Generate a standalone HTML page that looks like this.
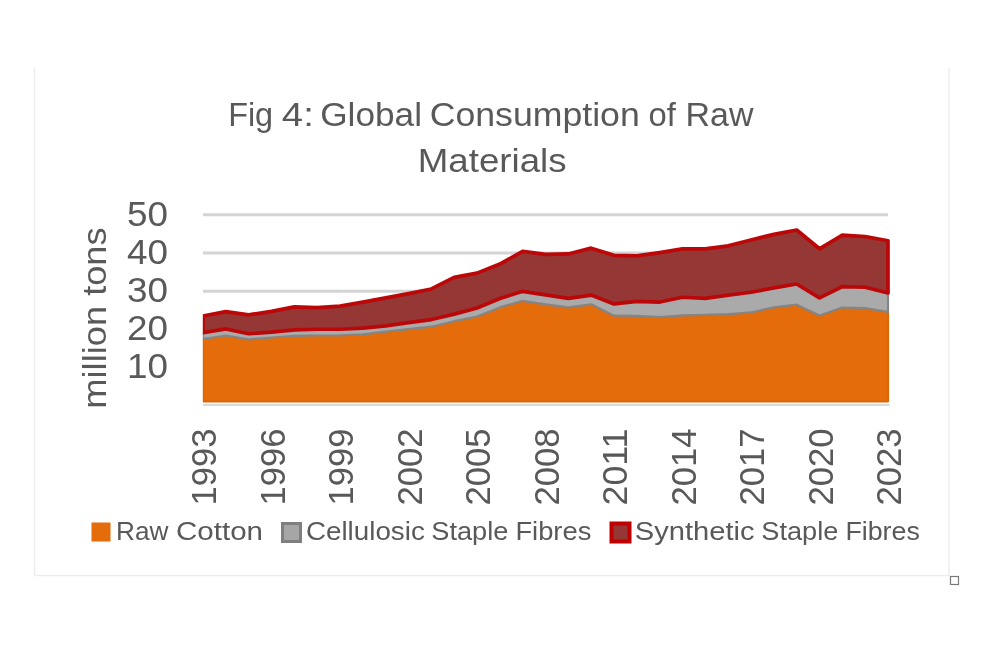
<!DOCTYPE html>
<html><head><meta charset="utf-8"><title>Fig 4: Global Consumption of Raw Materials</title>
<style>.t{font-family:"Liberation Sans",sans-serif}html,body{margin:0;padding:0;background:#fff;width:1000px;height:666px;overflow:hidden;position:relative;font-family:"Liberation Sans",sans-serif}</style>
</head><body>
<svg width="1000" height="666" viewBox="0 0 1000 666" style="position:absolute;left:0;top:0;display:block;will-change:transform">
<rect x="0" y="0" width="1000" height="666" fill="#ffffff"/>
<path d="M34.5,68 L34.5,575.5 L949,575.5 L949,68" fill="none" stroke="#ededed" stroke-width="1.5"/>
<rect x="950.5" y="576.5" width="8" height="8" fill="#ffffff" stroke="#7a7a7a" stroke-width="1.2"/>
<line x1="203.0" y1="214.85" x2="888.0" y2="214.85" stroke="#d4d4d4" stroke-width="3"/>
<line x1="203.0" y1="253.10" x2="888.0" y2="253.10" stroke="#d4d4d4" stroke-width="3"/>
<line x1="203.0" y1="291.35" x2="888.0" y2="291.35" stroke="#d4d4d4" stroke-width="3"/>
<line x1="203.0" y1="329.60" x2="888.0" y2="329.60" stroke="#d4d4d4" stroke-width="3"/>
<line x1="203.0" y1="367.85" x2="888.0" y2="367.85" stroke="#d4d4d4" stroke-width="3"/>
<line x1="203.0" y1="404.9" x2="889.5" y2="404.9" stroke="#d9d9d9" stroke-width="2"/>
<defs><clipPath id="pc"><rect x="202.8" y="150" width="687.4" height="270"/></clipPath></defs>
<g clip-path="url(#pc)">
<path d="M203.00,339.20 L225.83,335.50 L248.67,339.40 L271.50,337.50 L294.33,335.90 L317.17,335.50 L340.00,335.30 L362.83,334.30 L385.67,331.60 L408.50,329.20 L431.33,326.70 L454.17,321.20 L477.00,316.50 L499.83,307.40 L522.67,300.80 L545.50,304.30 L568.33,307.30 L591.17,304.30 L614.00,315.70 L636.83,315.80 L659.67,317.10 L682.50,315.40 L705.33,314.90 L728.17,314.05 L751.00,312.30 L773.83,307.40 L796.67,304.65 L819.50,315.45 L842.33,307.50 L865.17,308.20 L888.00,311.80 L888.00,401.30 L203.00,401.30 Z" fill="#e46c0a" stroke="#dc660a" stroke-width="2.2" stroke-linejoin="round"/>
<path d="M203.00,332.55 L225.83,328.95 L248.67,333.75 L271.50,332.15 L294.33,329.85 L317.17,329.25 L340.00,329.25 L362.83,328.05 L385.67,325.85 L408.50,322.55 L431.33,319.55 L454.17,314.15 L477.00,308.05 L499.83,298.45 L522.67,291.35 L545.50,294.85 L568.33,298.45 L591.17,295.05 L614.00,303.95 L636.83,301.35 L659.67,302.05 L682.50,297.25 L705.33,298.45 L728.17,295.05 L751.00,292.25 L773.83,287.90 L796.67,284.00 L819.50,297.90 L842.33,286.55 L865.17,287.25 L888.00,292.95 L888.00,311.80 L865.17,308.20 L842.33,307.50 L819.50,315.45 L796.67,304.65 L773.83,307.40 L751.00,312.30 L728.17,314.05 L705.33,314.90 L682.50,315.40 L659.67,317.10 L636.83,315.80 L614.00,315.70 L591.17,304.30 L568.33,307.30 L545.50,304.30 L522.67,300.80 L499.83,307.40 L477.00,316.50 L454.17,321.20 L431.33,326.70 L408.50,329.20 L385.67,331.60 L362.83,334.30 L340.00,335.30 L317.17,335.50 L294.33,335.90 L271.50,337.50 L248.67,339.40 L225.83,335.50 L203.00,339.20 Z" fill="#aaaaaa" stroke="#858585" stroke-width="2.2" stroke-linejoin="round"/>
<path d="M203.00,315.95 L225.83,311.65 L248.67,314.85 L271.50,311.35 L294.33,306.85 L317.17,307.55 L340.00,306.15 L362.83,302.15 L385.67,297.85 L408.50,293.65 L431.33,288.95 L454.17,277.35 L477.00,273.15 L499.83,264.05 L522.67,251.35 L545.50,254.35 L568.33,253.95 L591.17,248.15 L614.00,255.35 L636.83,255.95 L659.67,252.65 L682.50,248.85 L705.33,248.85 L728.17,245.80 L751.00,239.95 L773.83,234.35 L796.67,230.00 L819.50,248.80 L842.33,235.05 L865.17,236.50 L888.00,240.75 L888.00,292.95 L865.17,287.25 L842.33,286.55 L819.50,297.90 L796.67,284.00 L773.83,287.90 L751.00,292.25 L728.17,295.05 L705.33,298.45 L682.50,297.25 L659.67,302.05 L636.83,301.35 L614.00,303.95 L591.17,295.05 L568.33,298.45 L545.50,294.85 L522.67,291.35 L499.83,298.45 L477.00,308.05 L454.17,314.15 L431.33,319.55 L408.50,322.55 L385.67,325.85 L362.83,328.05 L340.00,329.25 L317.17,329.25 L294.33,329.85 L271.50,332.15 L248.67,333.75 L225.83,328.95 L203.00,332.55 Z" fill="#953735" stroke="#bb0708" stroke-width="3.7" stroke-linejoin="round"/>
</g>
<text x="228.14" y="125.5" class="t" font-size="34" fill="#595959" textLength="44.99" lengthAdjust="spacingAndGlyphs">Fig</text>
<text x="281.88" y="125.5" class="t" font-size="34" fill="#595959" textLength="31.90" lengthAdjust="spacingAndGlyphs">4:</text>
<text x="320.23" y="125.5" class="t" font-size="34" fill="#595959" textLength="101.73" lengthAdjust="spacingAndGlyphs">Global</text>
<text x="429.70" y="125.5" class="t" font-size="34" fill="#595959" textLength="210.05" lengthAdjust="spacingAndGlyphs">Consumption</text>
<text x="648.54" y="125.5" class="t" font-size="34" fill="#595959" textLength="27.35" lengthAdjust="spacingAndGlyphs">of</text>
<text x="685.60" y="125.5" class="t" font-size="34" fill="#595959" textLength="67.93" lengthAdjust="spacingAndGlyphs">Raw</text>
<text x="417.76" y="171.6" class="t" font-size="34" fill="#595959" textLength="148.85" lengthAdjust="spacingAndGlyphs">Materials</text>
<text x="168" y="226.00" text-anchor="end" class="t" font-size="35" fill="#595959" textLength="41" lengthAdjust="spacingAndGlyphs">50</text>
<text x="168" y="264.00" text-anchor="end" class="t" font-size="35" fill="#595959" textLength="41" lengthAdjust="spacingAndGlyphs">40</text>
<text x="168" y="302.00" text-anchor="end" class="t" font-size="35" fill="#595959" textLength="41" lengthAdjust="spacingAndGlyphs">30</text>
<text x="168" y="340.00" text-anchor="end" class="t" font-size="35" fill="#595959" textLength="41" lengthAdjust="spacingAndGlyphs">20</text>
<text x="168" y="378.00" text-anchor="end" class="t" font-size="35" fill="#595959" textLength="41" lengthAdjust="spacingAndGlyphs">10</text>
<text transform="translate(106,318) rotate(-90)" x="0" y="0" text-anchor="middle" class="t" font-size="34" fill="#595959" textLength="181.3" lengthAdjust="spacingAndGlyphs">million tons</text>
<text transform="translate(216.30,428.5) rotate(-90)" x="0" y="0" text-anchor="end" class="t" font-size="35" fill="#595959" textLength="77" lengthAdjust="spacingAndGlyphs">1993</text>
<text transform="translate(284.80,428.5) rotate(-90)" x="0" y="0" text-anchor="end" class="t" font-size="35" fill="#595959" textLength="77" lengthAdjust="spacingAndGlyphs">1996</text>
<text transform="translate(353.30,428.5) rotate(-90)" x="0" y="0" text-anchor="end" class="t" font-size="35" fill="#595959" textLength="77" lengthAdjust="spacingAndGlyphs">1999</text>
<text transform="translate(421.80,428.5) rotate(-90)" x="0" y="0" text-anchor="end" class="t" font-size="35" fill="#595959" textLength="77" lengthAdjust="spacingAndGlyphs">2002</text>
<text transform="translate(490.30,428.5) rotate(-90)" x="0" y="0" text-anchor="end" class="t" font-size="35" fill="#595959" textLength="77" lengthAdjust="spacingAndGlyphs">2005</text>
<text transform="translate(558.80,428.5) rotate(-90)" x="0" y="0" text-anchor="end" class="t" font-size="35" fill="#595959" textLength="77" lengthAdjust="spacingAndGlyphs">2008</text>
<text transform="translate(627.30,428.5) rotate(-90)" x="0" y="0" text-anchor="end" class="t" font-size="35" fill="#595959" textLength="77" lengthAdjust="spacingAndGlyphs">2011</text>
<text transform="translate(695.80,428.5) rotate(-90)" x="0" y="0" text-anchor="end" class="t" font-size="35" fill="#595959" textLength="77" lengthAdjust="spacingAndGlyphs">2014</text>
<text transform="translate(764.30,428.5) rotate(-90)" x="0" y="0" text-anchor="end" class="t" font-size="35" fill="#595959" textLength="77" lengthAdjust="spacingAndGlyphs">2017</text>
<text transform="translate(832.80,428.5) rotate(-90)" x="0" y="0" text-anchor="end" class="t" font-size="35" fill="#595959" textLength="77" lengthAdjust="spacingAndGlyphs">2020</text>
<text transform="translate(901.30,428.5) rotate(-90)" x="0" y="0" text-anchor="end" class="t" font-size="35" fill="#595959" textLength="77" lengthAdjust="spacingAndGlyphs">2023</text>
<rect x="91.5" y="522.5" width="19" height="19" fill="#e46c0a"/>
<rect x="282.5" y="523.5" width="18" height="18" fill="#a6a6a6" stroke="#7f7f7f" stroke-width="3"/>
<rect x="611.5" y="523.5" width="18" height="18" fill="#953735" stroke="#c00000" stroke-width="4"/>
<text x="115.98" y="539.6" class="t" font-size="26" fill="#595959" textLength="52.43" lengthAdjust="spacingAndGlyphs">Raw</text>
<text x="176.06" y="539.6" class="t" font-size="26" fill="#595959" textLength="86.96" lengthAdjust="spacingAndGlyphs">Cotton</text>
<text x="305.93" y="539.6" class="t" font-size="26" fill="#595959" textLength="118.92" lengthAdjust="spacingAndGlyphs">Cellulosic</text>
<text x="431.31" y="539.6" class="t" font-size="26" fill="#595959" textLength="77.06" lengthAdjust="spacingAndGlyphs">Staple</text>
<text x="515.40" y="539.6" class="t" font-size="26" fill="#595959" textLength="75.91" lengthAdjust="spacingAndGlyphs">Fibres</text>
<text x="634.76" y="539.6" class="t" font-size="26" fill="#595959" textLength="119.81" lengthAdjust="spacingAndGlyphs">Synthetic</text>
<text x="761.31" y="539.6" class="t" font-size="26" fill="#595959" textLength="77.06" lengthAdjust="spacingAndGlyphs">Staple</text>
<text x="845.44" y="539.6" class="t" font-size="26" fill="#595959" textLength="74.34" lengthAdjust="spacingAndGlyphs">Fibres</text>
</svg>
</body></html>
